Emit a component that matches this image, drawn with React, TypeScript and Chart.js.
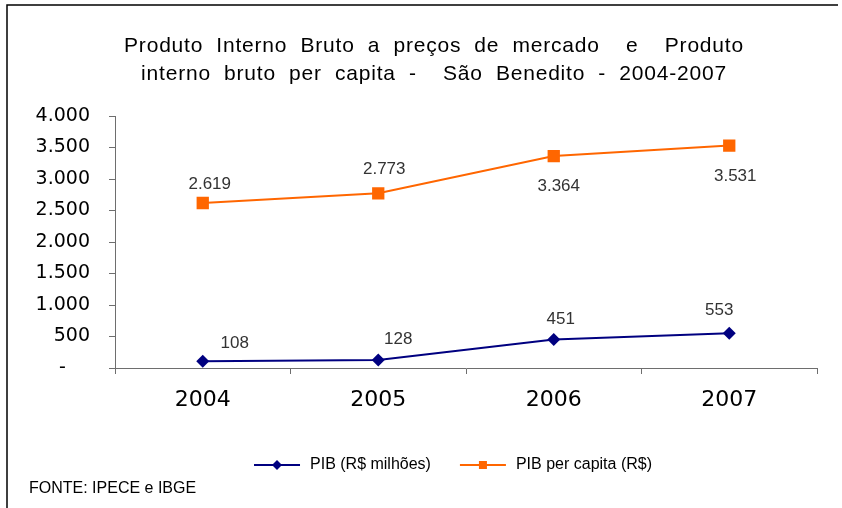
import React, { useEffect, useRef } from 'react';
import { Chart, registerables } from 'chart.js';

Chart.register(...registerables);

// ---- data ----
const categories = ['2004', '2005', '2006', '2007'];
const pibMilhoes = [108, 128, 451, 553];
const pibPerCapita = [2619, 2773, 3364, 3531];
const seriesLabels = ['PIB (R$ milhões)', 'PIB per capita (R$)'];
const titleLines = [
  'Produto Interno Bruto a preços de mercado  e  Produto',
  'interno bruto per capita -  São Benedito - 2004-2007',
];
const sourceText = 'FONTE: IPECE e IBGE';
const yMin = 0;
const yMax = 4000;
const yStep = 500;

// ---- style ----
const FONT = '"Liberation Sans", Arial, sans-serif';
const TICK_FONT = '"DejaVu Sans", Verdana, sans-serif';
const BLUE = '#000080';
const ORANGE = '#FF6600';
const AXIS = '#6e6e6e';
const LABEL_COLOR = '#333333';
// data label offsets (px) from each point, as placed in the original
const pibLabelOffsets = [[32, -18], [20, -21], [7, -20], [-10, -23]];
const perCapitaLabelOffsets = [[7, -19], [6, -24], [5, 30], [6, 31]];

const fmt = (v: number) => String(Math.round(v)).replace(/\B(?=(\d{3})+(?!\d))/g, '.');

const decorPlugin = {
  id: 'decor',
  afterDatasetsDraw(chart: any) {
    const ctx = chart.ctx;
    ctx.save();
    ctx.font = `17px ${FONT}`;
    ctx.fillStyle = LABEL_COLOR;
    ctx.textAlign = 'center';
    ctx.textBaseline = 'middle';
    const offsets = [pibLabelOffsets, perCapitaLabelOffsets];
    chart.data.datasets.forEach((ds: any, di: number) => {
      const meta = chart.getDatasetMeta(di);
      meta.data.forEach((pt: any, i: number) => {
        const [dx, dy] = offsets[di][i];
        ctx.fillText(fmt(ds.data[i]), pt.x + dx, pt.y + dy);
      });
    });
    ctx.restore();
  },
  afterDraw(chart: any) {
    const ctx = chart.ctx;
    ctx.save();
    // frame (left and top edges)
    ctx.strokeStyle = '#000';
    ctx.lineWidth = 1.5;
    ctx.beginPath();
    ctx.moveTo(7, chart.height);
    ctx.lineTo(7, 5);
    ctx.lineTo(838, 5);
    ctx.stroke();

    // title
    ctx.fillStyle = '#000';
    ctx.font = `21px ${FONT}`;
    ctx.letterSpacing = '0.8px';
    (ctx as any).wordSpacing = '6.5px';
    ctx.textAlign = 'center';
    ctx.textBaseline = 'alphabetic';
    ctx.fillText(titleLines[0], 434, 52);
    ctx.fillText(titleLines[1], 434, 80);
    (ctx as any).wordSpacing = '0px';
    ctx.letterSpacing = '0px';

    // legend
    ctx.font = `16px ${FONT}`;
    ctx.textAlign = 'left';
    ctx.textBaseline = 'middle';
    const ly = 465;
    const lineLen = 46;
    const gapText = 10;
    const gapItem = 29;
    const items = chart.data.datasets.map((ds: any) => ({
      label: ds.label,
      color: ds.borderColor,
      style: ds.pointStyle,
      w: ctx.measureText(ds.label).width,
    }));
    const total = items.reduce((s: number, it: any) => s + lineLen + gapText + it.w, 0) + gapItem * (items.length - 1);
    let x = 453 - total / 2;
    items.forEach((it: any) => {
      ctx.strokeStyle = it.color;
      ctx.fillStyle = it.color;
      ctx.lineWidth = 2;
      ctx.beginPath();
      ctx.moveTo(x, ly);
      ctx.lineTo(x + lineLen, ly);
      ctx.stroke();
      const cx = x + lineLen / 2;
      ctx.beginPath();
      if (it.style === 'rectRot') {
        const r = 5;
        ctx.moveTo(cx, ly - r);
        ctx.lineTo(cx + r, ly);
        ctx.lineTo(cx, ly + r);
        ctx.lineTo(cx - r, ly);
        ctx.closePath();
      } else {
        const h = 4;
        ctx.rect(cx - h, ly - h, 2 * h, 2 * h);
      }
      ctx.fill();
      ctx.fillStyle = '#000';
      ctx.fillText(it.label, x + lineLen + gapText, ly);
      x += lineLen + gapText + it.w + gapItem;
    });

    // source
    ctx.font = `16px ${FONT}`;
    ctx.fillText(sourceText, 29, 489);
    ctx.restore();
  },
};

export default function App() {
  const ref = useRef<HTMLCanvasElement | null>(null);
  useEffect(() => {
    if (!ref.current) return;
    const chart = new Chart(ref.current, {
      type: 'line',
      data: {
        labels: categories,
        datasets: [
          {
            label: seriesLabels[0],
            data: pibMilhoes,
            borderColor: BLUE,
            backgroundColor: BLUE,
            borderWidth: 2,
            pointStyle: 'rectRot',
            pointRadius: 6.5,
            pointBorderWidth: 0,
            pointBackgroundColor: BLUE,
            tension: 0,
          },
          {
            label: seriesLabels[1],
            data: pibPerCapita,
            borderColor: ORANGE,
            backgroundColor: ORANGE,
            borderWidth: 2,
            pointStyle: 'rect',
            pointRadius: 8.7,
            pointBorderWidth: 0,
            pointBackgroundColor: ORANGE,
            tension: 0,
          },
        ],
      },
      options: {
        responsive: false,
        devicePixelRatio: 1,
        animation: false,
        layout: { padding: { top: 116, right: 25, bottom: 90, left: 0 } },
        plugins: {
          legend: { display: false },
          title: { display: false },
          tooltip: { enabled: false },
        },
        scales: {
          x: {
            type: 'category',
            offset: true,
            afterFit: (s: any) => { s.height = 50; },
            grid: { offset: true, drawOnChartArea: false, drawTicks: true, tickLength: 6, color: AXIS },
            border: { display: true, color: AXIS, width: 1 },
            ticks: { color: '#000', font: { family: TICK_FONT, size: 22 }, padding: 13, maxRotation: 0, autoSkip: false },
          },
          y: {
            min: yMin,
            max: yMax,
            afterFit: (s: any) => { s.width = 115; },
            grid: { drawOnChartArea: false, drawTicks: true, tickLength: 6, color: AXIS },
            border: { display: true, color: AXIS, width: 1 },
            ticks: {
              stepSize: yStep,
              color: '#000',
              font: { family: TICK_FONT, size: 19 },
              padding: 19,
              callback: (v: any) => (Number(v) === 0 ? '-    ' : fmt(Number(v))),
            },
          },
        },
      },
      plugins: [decorPlugin],
    });
    return () => chart.destroy();
  }, []);
  return (
    <div style={{ position: 'absolute', left: 0, top: 0, width: 842, height: 508, background: '#fff' }}>
      <canvas ref={ref} width={842} height={508} style={{ display: 'block', width: 842, height: 508 }} />
    </div>
  );
}
